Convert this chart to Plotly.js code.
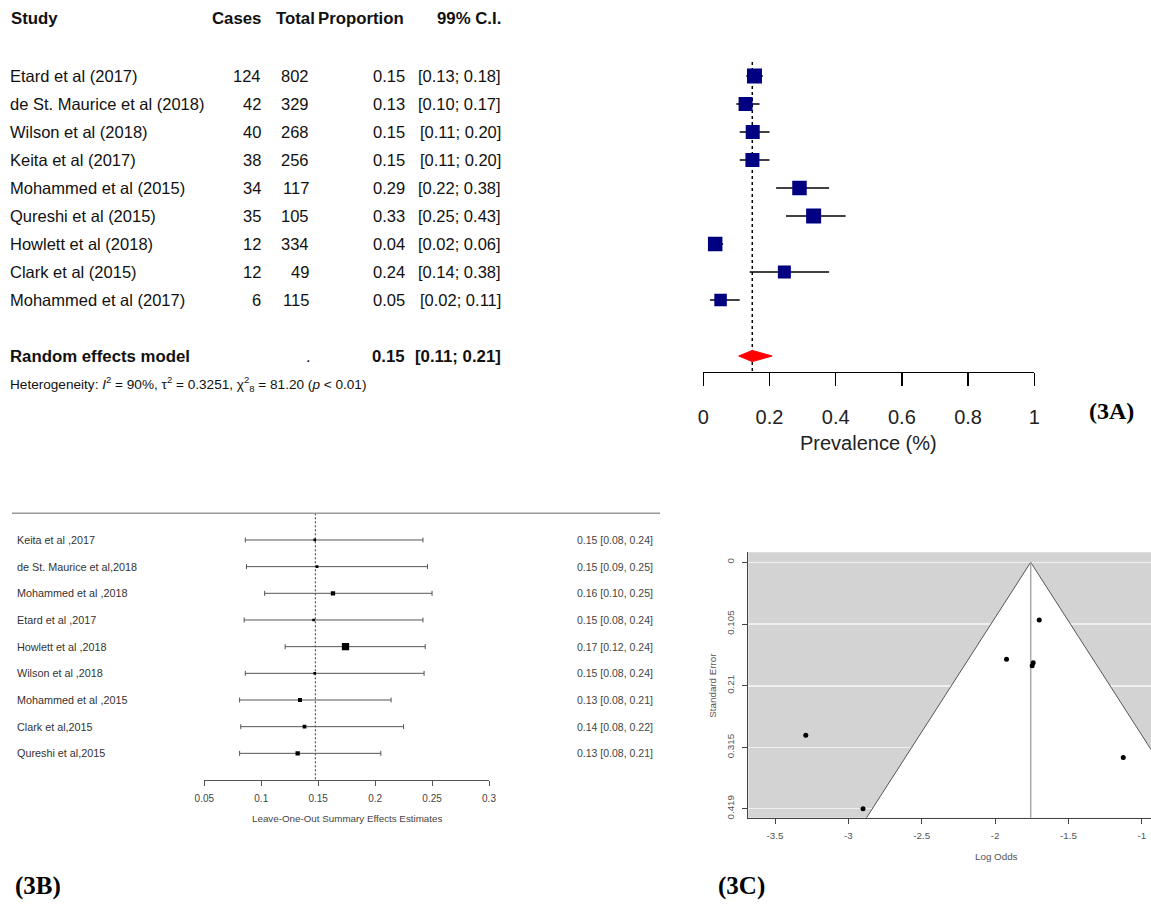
<!DOCTYPE html>
<html><head><meta charset="utf-8">
<script src="https://cdn.plot.ly/plotly-3.0.1.min.js"></script>
<style>body{margin:0;background:#fff}#chart{width:1151px;height:912px}</style>
</head><body><div id="chart"></div>
<script>
// ---------- Panel 3A: forest plot of prevalence ----------
const studiesA = ["Etard et al (2017)", "de St. Maurice et al (2018)", "Wilson et al (2018)", "Keita et al (2017)", "Mohammed et al (2015)", "Qureshi et al (2015)", "Howlett et al (2018)", "Clark et al (2015)", "Mohammed et al (2017)"];
const casesA = [124, 42, 40, 38, 34, 35, 12, 12, 6];
const totalA = [802, 329, 268, 256, 117, 105, 334, 49, 115];
const propA = [0.1546, 0.1277, 0.1493, 0.1484, 0.2906, 0.3333, 0.0359, 0.2449, 0.0522];
const lowA = [0.13, 0.10, 0.11, 0.11, 0.22, 0.25, 0.02, 0.14, 0.02];
const highA = [0.18, 0.17, 0.20, 0.20, 0.38, 0.43, 0.06, 0.38, 0.11];
const pooledA = 0.148, pooledLowA = 0.107, pooledHighA = 0.208;
const ticksA = [0, 0.2, 0.4, 0.6, 0.8, 1];
const tickTextA = ["0", "0.2", "0.4", "0.6", "0.8", "1"];

// ---------- Panel 3B: leave-one-out ----------
const studiesB = ["Keita et al ,2017", "de St. Maurice et al,2018", "Mohammed et al ,2018", "Etard et al ,2017", "Howlett et al ,2018", "Wilson et al ,2018", "Mohammed et al ,2015", "Clark et al,2015", "Qureshi et al,2015"];
const estB = [0.147, 0.149, 0.163, 0.146, 0.174, 0.147, 0.134, 0.138, 0.132];
const lowB = [0.086, 0.087, 0.103, 0.085, 0.121, 0.086, 0.081, 0.082, 0.081];
const highB = [0.242, 0.246, 0.250, 0.242, 0.244, 0.243, 0.214, 0.225, 0.205];
const labelsB = ["0.15 [0.08, 0.24]", "0.15 [0.09, 0.25]", "0.16 [0.10, 0.25]", "0.15 [0.08, 0.24]", "0.17 [0.12, 0.24]", "0.15 [0.08, 0.24]", "0.13 [0.08, 0.21]", "0.14 [0.08, 0.22]", "0.13 [0.08, 0.21]"];
const overallB = 0.1475;
const ticksB = [0.05, 0.1, 0.15, 0.2, 0.25, 0.3];
const tickTextB = ["0.05", "0.1", "0.15", "0.2", "0.25", "0.3"];

// ---------- Panel 3C: funnel plot ----------
const logOddsC = [-1.699, -1.922, -1.740, -1.747, -0.893, -0.693, -3.290, -1.126, -2.900];
const seC = [0.098, 0.165, 0.171, 0.176, 0.204, 0.207, 0.294, 0.332, 0.419];
const pooledC = -1.757;
const zC = 2.576;
const ticksCx = [-3.5, -3, -2.5, -2, -1.5, -1];
const tickTextCx = ["-3.5", "-3", "-2.5", "-2", "-1.5", "-1"];
const ticksCy = [0, 0.105, 0.21, 0.315, 0.419];
const tickTextCy = ["0", "0.105", "0.21", "0.315", "0.419"];

// ---------- helpers ----------
const W = 1151, H = 912;
const px = x => x / W;
const py = y => 1 - y / H;
const rowsA = studiesA.map((_, i) => i + 1);
const pooledRowA = 11;
const rowsB = studiesB.map((_, i) => i + 1);
const FA = "Liberation Sans, Arial, sans-serif";
const FS = "Liberation Serif, Times New Roman, serif";

const traces = [];
// 3A reference line
traces.push({x: [pooledA, pooledA], y: [0.5, 11.56], xaxis: 'x', yaxis: 'y', mode: 'lines',
  line: {color: '#000', width: 1.5, dash: '3px,3px'}, hoverinfo: 'skip', showlegend: false});
// 3A studies
traces.push({x: propA, y: rowsA, xaxis: 'x', yaxis: 'y', mode: 'markers', type: 'scatter',
  marker: {symbol: 'square', color: '#000080', opacity: 1, size: [15, 14, 14, 14, 14.5, 15, 14.5, 13, 12.5], line: {width: 0}},
  error_x: {type: 'data', symmetric: false, array: highA.map((h, i) => h - propA[i]), arrayminus: lowA.map((l, i) => propA[i] - l),
    color: '#000', thickness: 1.5, width: 0}, showlegend: false});
// 3A diamond
traces.push({x: [pooledLowA, pooledA, pooledHighA, pooledA, pooledLowA], y: [pooledRowA, pooledRowA - 0.2, pooledRowA, pooledRowA + 0.2, pooledRowA],
  xaxis: 'x', yaxis: 'y', mode: 'lines', fill: 'toself', fillcolor: '#ff0000', line: {color: '#ff0000', width: 1}, showlegend: false});

// 3B reference line
traces.push({x: [overallB, overallB], y: [0, 10], xaxis: 'x2', yaxis: 'y2', mode: 'lines',
  line: {color: '#333', width: 1, dash: '2px,2px'}, hoverinfo: 'skip', showlegend: false});
// 3B estimates
traces.push({x: estB, y: rowsB, xaxis: 'x2', yaxis: 'y2', mode: 'markers', type: 'scatter',
  marker: {symbol: 'square', color: '#000', opacity: 1, size: [2.7, 2.7, 4.3, 2.7, 7.3, 2.7, 4, 3.7, 4.3], line: {width: 0}},
  error_x: {type: 'data', symmetric: false, array: highB.map((h, i) => h - estB[i]), arrayminus: lowB.map((l, i) => estB[i] - l),
    color: '#555', thickness: 1, width: 2.5}, showlegend: false});

// 3C funnel (white triangle)
const seMax = 0.6;
traces.push({x: [pooledC, pooledC - zC * seMax, pooledC + zC * seMax, pooledC], y: [0, seMax, seMax, 0],
  xaxis: 'x3', yaxis: 'y3', mode: 'lines', fill: 'toself', fillcolor: '#ffffff', line: {color: '#555', width: 1}, showlegend: false});
traces.push({x: [pooledC, pooledC], y: [0, seMax], xaxis: 'x3', yaxis: 'y3', mode: 'lines',
  line: {color: '#aaa', width: 1.5}, showlegend: false});
traces.push({x: logOddsC, y: seC, xaxis: 'x3', yaxis: 'y3', mode: 'markers',
  marker: {color: '#000', size: 5, opacity: 1}, showlegend: false});

// ---------- annotations ----------
const ann = [];
function txt(x, y, text, opts) {
  ann.push(Object.assign({xref: 'paper', yref: 'paper', x: px(x), y: py(y), text: text, showarrow: false,
    xanchor: 'left', yanchor: 'middle', font: {family: FA, size: 16.5, color: '#111'}}, opts || {}));
}
function rowTxt(x, row, yref, text, anchor, font) {
  ann.push({xref: 'paper', yref: yref, x: px(x), y: row, text: text, showarrow: false,
    xanchor: anchor, yanchor: 'middle', font: font});
}
// header
const hf = {family: FA, size: 16.8, color: '#111'};
txt(9, 18, '<b>Study</b>', {font: hf});
txt(263, 18, '<b>Cases</b>', {font: hf, xanchor: 'right'});
txt(317, 18, '<b>Total</b>', {font: hf, xanchor: 'right'});
txt(406, 18, '<b>Proportion</b>', {font: hf, xanchor: 'right'});
txt(503, 18, '<b>99% C.I.</b>', {font: hf, xanchor: 'right'});
const rf = {family: FA, size: 16.5, color: '#111'};
studiesA.forEach((s, i) => {
  rowTxt(8, rowsA[i], 'y', s, 'left', rf);
  rowTxt(263, rowsA[i], 'y', String(casesA[i]), 'right', rf);
  rowTxt(311, rowsA[i], 'y', String(totalA[i]), 'right', rf);
  rowTxt(407, rowsA[i], 'y', propA[i].toFixed(2), 'right', rf);
  rowTxt(503, rowsA[i], 'y', '[' + lowA[i].toFixed(2) + '; ' + highA[i].toFixed(2) + ']', 'right', rf);
});
const bf = {family: FA, size: 16.8, color: '#111'};
rowTxt(8, pooledRowA, 'y', '<b>Random effects model</b>', 'left', bf);
rowTxt(313, pooledRowA, 'y', '.', 'right', rf);
rowTxt(407, pooledRowA, 'y', '<b>' + pooledA.toFixed(2) + '</b>', 'right', bf);
rowTxt(503, pooledRowA, 'y', '<b>[' + pooledLowA.toFixed(2) + '; ' + pooledHighA.toFixed(2) + ']</b>', 'right', bf);
txt(8, 384, 'Heterogeneity: <i>I</i><sup>2</sup> = 90%, τ<sup>2</sup> = 0.3251, χ<sup>2</sup><sub>8</sub> = 81.20 (<i>p</i> &lt; 0.01)',
  {font: {family: FA, size: 13.6, color: '#111'}});
txt(868, 443, 'Prevalence (%)', {xanchor: 'center', font: {family: FA, size: 20, color: '#222'}});
txt(1111, 411, '<b>(3A)</b>', {xanchor: 'center', font: {family: FS, size: 24, color: '#000'}});

// 3B labels
const lf = {family: FA, size: 10.8, color: '#333'};
studiesB.forEach((s, i) => {
  rowTxt(15, rowsB[i], 'y2', s, 'left', lf);
  rowTxt(575, rowsB[i], 'y2', labelsB[i], 'left', {family: FA, size: 10.5, color: '#444'});
});
txt(346.7, 818, 'Leave-One-Out Summary Effects Estimates', {xanchor: 'center', font: {family: FA, size: 9.8, color: '#444'}});
txt(38, 886, '<b>(3B)</b>', {xanchor: 'center', font: {family: FS, size: 25, color: '#000'}});

// 3C labels
txt(711.7, 685, 'Standard Error', {xanchor: 'center', textangle: -90, font: {family: FA, size: 9.8, color: '#555'}});
txt(996.7, 856, 'Log Odds', {xanchor: 'center', font: {family: FA, size: 9.8, color: '#555'}});
txt(741, 886, '<b>(3C)</b>', {xanchor: 'center', font: {family: FS, size: 25, color: '#000'}});

const layout = {
  width: W, height: H, margin: {l: 0, r: 0, t: 0, b: 0}, paper_bgcolor: '#fff', plot_bgcolor: 'rgba(0,0,0,0)',
  showlegend: false, hovermode: false,
  xaxis: {domain: [px(703.3), px(1034.3)], range: [0, 1], anchor: 'y', showline: true, linecolor: '#000', linewidth: 1.5,
    ticks: 'outside', ticklen: 13, tickwidth: 1.5, tickcolor: '#000', tickvals: ticksA, ticktext: tickTextA,
    tickfont: {family: FA, size: 20, color: '#222'}, ticklabelstandoff: 14, showgrid: false, zeroline: false, fixedrange: true},
  yaxis: {domain: [py(371.7), py(40)], range: [11.56, -0.286], anchor: 'x', visible: false, fixedrange: true},
  xaxis2: {domain: [px(204.3), px(489)], range: [0.05, 0.3], anchor: 'y2', showline: true, linecolor: '#555', linewidth: 1,
    ticks: 'outside', ticklen: 5, tickwidth: 1, tickcolor: '#555', tickvals: ticksB, ticktext: tickTextB,
    tickfont: {family: FA, size: 10, color: '#444'}, ticklabelstandoff: 4, showgrid: false, zeroline: false},
  yaxis2: {domain: [py(780), py(513.3)], range: [10, 0], anchor: 'x2', visible: false},
  xaxis3: {domain: [px(748.3), 1], range: [-3.682, -0.937], anchor: 'y3', showline: true, linecolor: '#444', linewidth: 1,
    ticks: 'outside', ticklen: 5, tickwidth: 1, tickcolor: '#444', tickvals: ticksCx, ticktext: tickTextCx,
    tickfont: {family: FA, size: 9.8, color: '#555'}, ticklabelstandoff: 4, showgrid: false, zeroline: false},
  yaxis3: {domain: [py(817.7), py(552.3)], range: [0.4343, -0.017], anchor: 'x3', showline: true, linecolor: '#444', linewidth: 1,
    ticks: 'outside', ticklen: 5, tickwidth: 1, tickcolor: '#444', tickvals: ticksCy, ticktext: tickTextCy, tickangle: -90,
    tickfont: {family: FA, size: 9.8, color: '#555'}, ticklabelstandoff: 4, showgrid: true, gridcolor: '#efefef', gridwidth: 1.5, zeroline: false},
  shapes: [
    {type: 'rect', xref: 'x3 domain', yref: 'y3 domain', x0: 0, x1: 1, y0: 0, y1: 1, fillcolor: '#d3d3d3', line: {width: 0}, layer: 'below'},
    {type: 'line', xref: 'paper', yref: 'paper', x0: px(12), x1: px(660), y0: py(513.3), y1: py(513.3), line: {color: '#999', width: 1.5}}
  ],
  annotations: ann
};
Plotly.newPlot('chart', traces, layout, {staticPlot: true, displayModeBar: false});
</script>
</body></html>
